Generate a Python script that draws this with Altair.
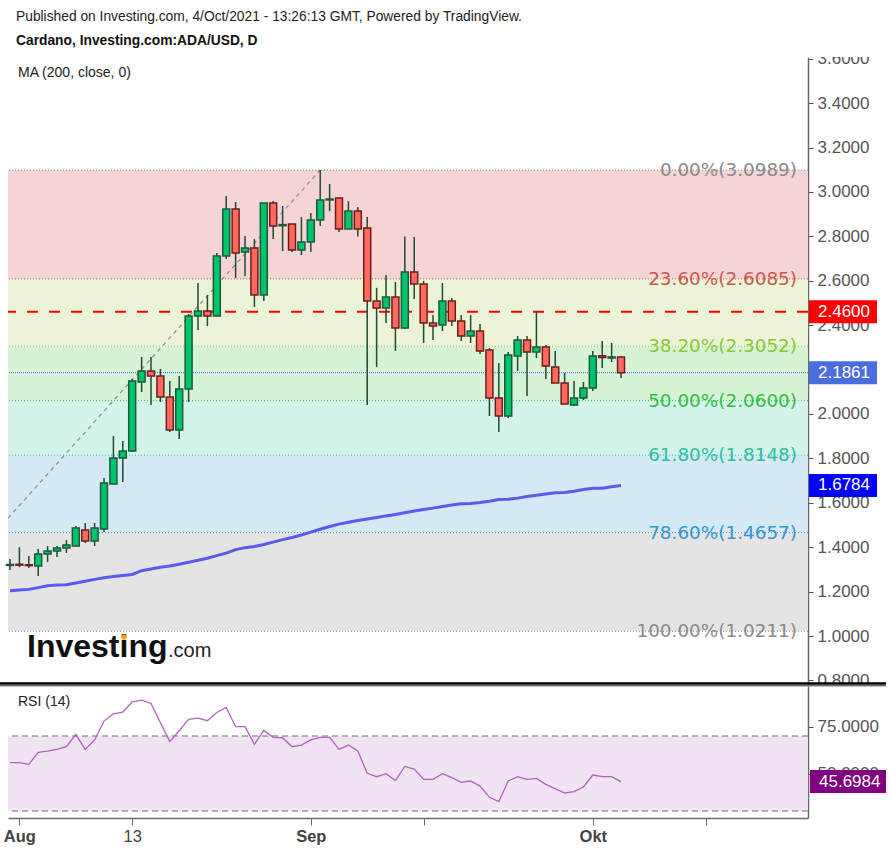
import altair as alt
import pandas as pd

# ---------------- data (candle 0 = 31 Jul 2021, daily) ----------------
open_ = [1.318, 1.323, 1.321, 1.315, 1.369, 1.383, 1.396, 1.405, 1.477, 1.428,
         1.482, 1.685, 1.802, 1.833, 2.144, 2.194, 2.171, 2.077, 1.928, 2.113,
         2.441, 2.464, 2.441, 2.712, 2.923, 2.730, 2.748, 2.536, 2.950, 2.848,
         2.856, 2.739, 2.775, 2.874, 2.964, 2.973, 2.833, 2.914, 2.838, 2.509,
         2.477, 2.527, 2.387, 2.640, 2.586, 2.410, 2.401, 2.509, 2.419, 2.351,
         2.374, 2.288, 2.072, 1.991, 2.261, 2.333, 2.279, 2.302, 2.212, 2.140,
         2.041, 2.072, 2.117, 2.262, 2.252, 2.257]
high = [1.347, 1.400, 1.360, 1.392, 1.405, 1.405, 1.432, 1.495, 1.509, 1.509,
        1.712, 1.901, 1.878, 2.158, 2.257, 2.257, 2.203, 2.149, 2.171, 2.450,
        2.590, 2.536, 2.725, 2.982, 2.955, 2.802, 2.788, 2.950, 2.959, 2.937,
        2.856, 2.887, 2.905, 3.0989, 3.036, 2.973, 2.959, 2.932, 2.887, 2.568,
        2.626, 2.595, 2.800, 2.797, 2.600, 2.446, 2.590, 2.523, 2.446, 2.446,
        2.405, 2.297, 2.230, 2.279, 2.351, 2.351, 2.464, 2.311, 2.284, 2.185,
        2.149, 2.144, 2.284, 2.329, 2.320, 2.261]
low = [1.297, 1.310, 1.306, 1.270, 1.333, 1.356, 1.374, 1.405, 1.419, 1.405,
       1.468, 1.685, 1.694, 1.830, 2.099, 2.040, 2.054, 1.919, 1.887, 2.054,
       2.378, 2.396, 2.441, 2.698, 2.613, 2.622, 2.482, 2.509, 2.788, 2.734,
       2.730, 2.716, 2.730, 2.847, 2.914, 2.820, 2.833, 2.800, 2.040, 2.212,
       2.410, 2.284, 2.383, 2.518, 2.320, 2.333, 2.374, 2.396, 2.329, 2.320,
       2.270, 1.991, 1.919, 1.982, 2.194, 2.081, 2.252, 2.158, 2.140, 2.045,
       2.036, 2.063, 2.104, 2.207, 2.234, 2.162]
close = [1.322, 1.319, 1.317, 1.369, 1.383, 1.396, 1.410, 1.486, 1.428, 1.486,
         1.689, 1.802, 1.833, 2.149, 2.194, 2.171, 2.077, 1.928, 2.113, 2.441,
         2.464, 2.441, 2.712, 2.923, 2.725, 2.748, 2.536, 2.950, 2.847, 2.853,
         2.739, 2.775, 2.874, 2.964, 2.968, 2.833, 2.914, 2.833, 2.509, 2.477,
         2.527, 2.387, 2.640, 2.586, 2.410, 2.396, 2.509, 2.419, 2.351, 2.374,
         2.284, 2.072, 1.991, 2.266, 2.333, 2.279, 2.302, 2.216, 2.140, 2.045,
         2.072, 2.117, 2.261, 2.254, 2.257, 2.186]
ma200 = [1.204, 1.207, 1.210, 1.218, 1.226, 1.230, 1.231, 1.239, 1.247, 1.255,
         1.262, 1.268, 1.273, 1.277, 1.294, 1.302, 1.310, 1.315, 1.323, 1.332,
         1.341, 1.350, 1.362, 1.373, 1.389, 1.398, 1.403, 1.412, 1.423, 1.434,
         1.444, 1.455, 1.468, 1.481, 1.493, 1.504, 1.512, 1.520, 1.527, 1.534,
         1.541, 1.547, 1.555, 1.563, 1.570, 1.576, 1.583, 1.590, 1.596, 1.597,
         1.601, 1.607, 1.615, 1.616, 1.621, 1.628, 1.634, 1.640, 1.645, 1.646,
         1.652, 1.660, 1.665, 1.666, 1.672, 1.678]
rsi14 = [55.8, 55.8, 54.9, 61.3, 62.0, 62.9, 64.3, 70.9, 62.9, 67.9,
         78.0, 81.9, 82.8, 88.3, 89.2, 87.4, 77.1, 67.0, 72.8, 78.9,
         79.6, 78.2, 82.6, 85.3, 75.0, 75.0, 65.6, 73.0, 69.3, 69.1,
         64.3, 65.2, 67.9, 69.3, 69.3, 62.9, 65.2, 62.0, 50.1, 48.3,
         49.9, 46.2, 53.8, 52.4, 46.9, 46.9, 49.9, 47.8, 45.3, 46.0,
         43.3, 37.3, 35.0, 46.0, 48.3, 46.9, 47.4, 44.2, 41.9, 39.6,
         40.3, 42.8, 49.2, 48.3, 48.3, 45.7]

fib_pct = [0.0, 23.6, 38.2, 50.0, 61.8, 78.6, 100.0]
fib_level = [3.0989, 2.6085, 2.3052, 2.0600, 1.8148, 1.4657, 1.0211]
fib_colors = ["#8a8a8a", "#c9584e", "#8cc83a", "#2fbf3f", "#2cbf9e", "#3597d3", "#8a8a8a"]
band_colors = ["#f4d4d4", "#ebf4d6", "#d6f3d6", "#d4f3ea", "#d4e9f4", "#e4e4e4"]

trend_days = [-11, 33]
trend_prices = [1.0211, 3.0989]

tick_days = [1, 13, 32, 44, 62, 74]
tick_labels = ["Aug", "13", "Sep", "", "Okt", ""]
price_ticks = [0.8, 1.0, 1.2, 1.4, 1.6, 1.8, 2.0, 2.2, 2.4, 2.6, 2.8, 3.0, 3.2, 3.4, 3.6]
rsi_ticks = [50, 75]
rsi_upper, rsi_lower = 70, 30

resistance = 2.46
last_close = 2.1861
last_ma = 1.6784
last_rsi = 45.6984

# ---------------- tables ----------------
candles = pd.DataFrame({"day": list(range(len(open_))), "open": open_, "high": high,
                        "low": low, "close": close, "ma": ma200, "rsi": rsi14})
fib = pd.DataFrame({"pct": fib_pct, "level": fib_level, "color": fib_colors})
fib["label"] = [f"{p:.2f}%({l:.4f})" for p, l in zip(fib_pct, fib_level)]
bands = pd.DataFrame({"top": fib_level[:-1], "bottom": fib_level[1:], "color": band_colors})
trend = pd.DataFrame({"day": trend_days, "price": trend_prices})
one = pd.DataFrame({"a": [0]})

FONT = "Liberation Sans"
W, H = 800, 761

x_scale = alt.Scale(domain=[-0.213, 84.89], range=[0, W], nice=False, zero=False)
label_expr = " : ".join(f"datum.value == {d} ? '{t}'" for d, t in zip(tick_days, tick_labels)) + " : ''"
x_axis = alt.Axis(values=tick_days, labelExpr=label_expr, orient="bottom", title=None,
                  grid=False, tickSize=7, tickColor="#6b6b6b", domainColor="#6b6b6b",
                  domainWidth=1.5, labelFont=FONT, labelFontSize=16.5, labelColor="#444444",
                  labelPadding=3, labelFlush=False,
                  labelFontWeight={"condition": {"test": "datum.value == 13", "value": "normal"},
                                   "value": "bold"})

price_scale = alt.Scale(domain=[0.7838, 3.608], range=[627, 0], nice=False, zero=False)
rsi_scale = alt.Scale(domain=[26.27, 96.7], range=[761, 629], nice=False, zero=False)
price_axis = alt.Axis(orient="right", values=price_ticks, format=".4f", title=None, grid=False,
                      labelFont=FONT, labelFontSize=17, labelColor="#555555", tickColor="#555555",
                      tickSize=5, domainColor="#6b6b6b", domainWidth=1.5, labelPadding=4,
                      labelFlush=False, labelOverlap=False)
rsi_axis = alt.Axis(orient="right", values=rsi_ticks, format=".4f", title=None, grid=False,
                    labelFont=FONT, labelFontSize=17, labelColor="#555555", tickColor="#555555",
                    tickSize=5, domainColor="#6b6b6b", domainWidth=1.5, labelPadding=4,
                    labelFlush=False, labelOverlap=False)


def X(field):
    return alt.X(field, type="quantitative", scale=x_scale, axis=x_axis)


def PY(field, axis=None):
    return alt.Y(field, type="quantitative", scale=price_scale, axis=axis)


GREEN, RED = "#00c46c", "#ff6a5f"

band_layer = alt.Chart(bands).mark_rect().encode(
    x=alt.value(0), x2=alt.value(W),
    y=PY("top", price_axis), y2="bottom",
    color=alt.Color("color:N", scale=None))

rsi_band = alt.Chart(one).mark_rect(color="#f0e4f2").encode(
    x=alt.value(0), x2=alt.value(W),
    y=alt.Y(datum=rsi_upper, type="quantitative", scale=rsi_scale, axis=rsi_axis),
    y2=alt.Y2(datum=rsi_lower))

rsi_lines = alt.Chart(pd.DataFrame({"v": [rsi_upper, rsi_lower]})).mark_rule(
    color="#9a9a9a", strokeDash=[6, 4], strokeWidth=1.5).encode(
    y=alt.Y("v:Q", scale=rsi_scale, axis=None))

fib_lines = alt.Chart(fib).mark_rule(strokeDash=[1, 2], strokeWidth=1).encode(
    y=PY("level"), color=alt.Color("color:N", scale=None))

fib_text = alt.Chart(fib).mark_text(align="right", baseline="middle", font="DejaVu Sans",
                                    fontSize=18.4).encode(
    x=alt.value(789), y=PY("level"), text="label:N", color=alt.Color("color:N", scale=None))

res_line = alt.Chart(one).mark_rule(color="#ff0000", strokeWidth=2, strokeDash=[11, 11]).encode(
    y=alt.Y(datum=resistance, type="quantitative", scale=price_scale, axis=None))

last_line = alt.Chart(one).mark_rule(color="#4a6ee0", strokeWidth=1, strokeDash=[1, 1]).encode(
    y=alt.Y(datum=last_close, type="quantitative", scale=price_scale, axis=None))

trend_line = alt.Chart(trend).mark_line(color="#8c8c8c", strokeWidth=1.2, strokeDash=[4, 4],
                                        clip=True).encode(x=X("day"), y=PY("price"))

ma_line = alt.Chart(candles).mark_line(color="#5a5af0", strokeWidth=3).encode(
    x=X("day"), y=PY("ma"))

wicks = alt.Chart(candles).mark_rule(strokeWidth=1.5, color="#1f4a33").encode(
    x=X("day"), y=PY("low"), y2="high")

bodies = alt.Chart(candles).transform_calculate(
    x1="datum.day - 0.37", x2="datum.day + 0.37").mark_rect(strokeWidth=1.5).encode(
    x=X("x1"), x2="x2", y=PY("open"), y2="close",
    fill=alt.condition("datum.close >= datum.open", alt.value(GREEN), alt.value(RED)),
    stroke=alt.condition("datum.close >= datum.open", alt.value("#1c5a39"), alt.value("#6e1c1c")))

rsi_line = alt.Chart(candles).mark_line(color="#b65fc5", strokeWidth=1.3).encode(
    x=X("day"), y=alt.Y("rsi:Q", scale=rsi_scale, axis=None))

# cover clipped axis labels
cover = alt.Chart(one).mark_rect(color="white").encode(
    x=alt.value(803), x2=alt.value(893), y=alt.value(-14), y2=alt.value(0))
cover2 = alt.Chart(one).mark_rect(color="white").encode(
    x=alt.value(803), x2=alt.value(893), y=alt.value(627), y2=alt.value(637))

sep1 = alt.Chart(one).mark_rule(color="#000000", strokeWidth=2.5).encode(
    x=alt.value(-8), x2=alt.value(878), y=alt.value(626.5))
sep2 = alt.Chart(one).mark_rule(color="#333333", strokeWidth=1).encode(
    x=alt.value(-8), x2=alt.value(878), y=alt.value(628.8))


def box(value, scale, color, width_px, center_px):
    t = alt.Chart(one).mark_tick(color=color, thickness=23, size=width_px, orient="horizontal",
                                 opacity=1).encode(
        x=alt.value(center_px),
        y=alt.Y(datum=value, type="quantitative", scale=scale, axis=None))
    tx = alt.Chart(one).mark_text(align="left", baseline="middle", font=FONT, fontSize=17,
                                  color="white").encode(
        x=alt.value(center_px - width_px / 2 + 9),
        y=alt.Y(datum=value, type="quantitative", scale=scale, axis=None),
        text=alt.value(f"{value:.4f}"))
    return [t, tx]


boxes = (box(resistance, price_scale, "#ff0000", 68, 835) +
         box(last_close, price_scale, "#4a6ee0", 68, 835) +
         box(last_ma, price_scale, "#0000ff", 68, 835) +
         box(last_rsi, rsi_scale, "#800080", 76, 840))


def txt(s, x, y, size=13.8, weight="normal", color="#222222", font=FONT, baseline="middle"):
    return alt.Chart(one).mark_text(align="left", baseline=baseline, font=font, fontSize=size,
                                    fontWeight=weight, color=color).encode(
        x=alt.value(x), y=alt.value(y), text=alt.value(s))


texts = [
    txt("Published on Investing.com, 4/Oct/2021 - 13:26:13 GMT, Powered by TradingView.", 8, -40),
    txt("Cardano, Investing.com:ADA/USD, D", 8, -16, weight="bold", color="#111111"),
    txt("MA (200, close, 0)", 10, 16, size=14),
    txt("RSI (14)", 10, 645, size=14),
    txt("Investing", 19, 600, size=32, weight="bold", color="#111111", baseline="alphabetic"),
    txt(".com", 160, 600, size=20, color="#222222", baseline="alphabetic"),
]
flame = alt.Chart(one).mark_point(filled=True, color="#f5a21b", size=30, opacity=1).encode(
    x=alt.value(116), y=alt.value(580))

chart = alt.layer(
    band_layer, rsi_band, rsi_lines, fib_lines, fib_text, res_line, last_line, trend_line,
    ma_line, wicks, bodies, rsi_line, cover, cover2, sep1, sep2, *boxes, *texts, flame
).resolve_scale(y="independent").properties(
    width=W, height=H,
    autosize=alt.AutoSizeParams(type="none"),
    padding={"left": 8, "top": 57, "right": 85, "bottom": 34},
    background="white"
).configure_view(strokeWidth=0)

chart.save("out.html", embed_options={"renderer": "svg", "actions": False})
